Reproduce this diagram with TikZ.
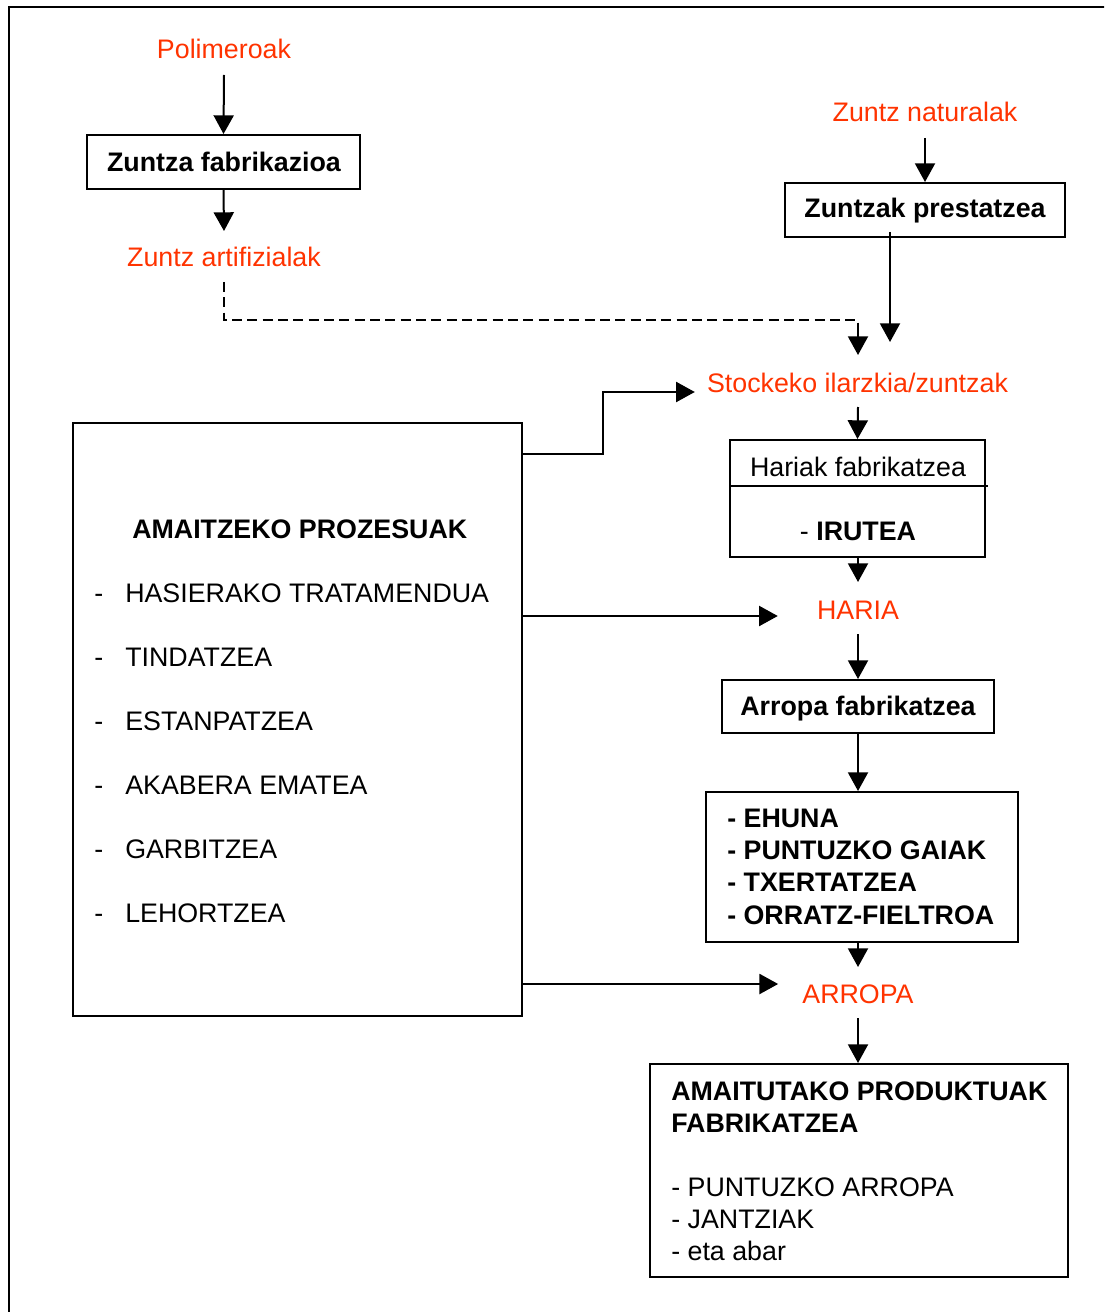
\documentclass[tikz,border=0pt]{standalone}
\usepackage{fontspec}
\setmainfont{Liberation Sans}
\usetikzlibrary{arrows.meta,calc}
\definecolor{orred}{RGB}{255,51,0}
\tikzset{
  lbl/.style={font=\fontsize{20.1}{24}\selectfont, inner sep=0pt, anchor=base},
  lblw/.style={lbl, anchor=base west},
  redtxt/.style={text=orred},
  boxn/.style={draw, line width=1.5pt, inner sep=0pt},
  arr/.style={line width=1.5pt, -{Triangle[length=14pt,width=15pt]}},
  dash line/.style={line width=1.5pt, dash pattern=on 7.5pt off 4pt},
}
\begin{document}
\begin{tikzpicture}[x=0.75pt,y=-0.75pt]
\useasboundingbox (0,0) rectangle (1104,1312);
\begin{scope}
\clip (0,0) rectangle (1104,1312);
\draw[line width=1.5pt] (9,7) rectangle (1130,1340);
\end{scope}

% boxes
\node[boxn, minimum width=204.75pt, minimum height=40.5pt] (fab) at (223.5,162) {};
\node[boxn, minimum width=210pt, minimum height=40.5pt] (prest) at (925,210) {};
\node[boxn, minimum width=191.25pt, minimum height=87.75pt] (hariak) at (857.5,498.5) {};
\node[boxn, minimum width=204pt, minimum height=39.75pt] (arropaf) at (858,706.5) {};
\node[boxn, minimum width=234pt, minimum height=112.5pt] (list) at (862,867) {};
\node[boxn, minimum width=313.5pt, minimum height=159.75pt] (final) at (859,1170.5) {};
\node[boxn, minimum width=336.75pt, minimum height=444.75pt] (left) at (297.5,719.5) {};
\draw[line width=1.5pt] ($(hariak.north west)+(0,47)$) -- ($(hariak.north east)+(2,47)$);

% texts
\node[lbl, redtxt] (pol) at (224,59) {Polimeroak};
\node[lbl] (fabt) at (224,172) {\bfseries Zuntza fabrikazioa};
\node[lbl, redtxt] (art) at (224,267) {Zuntz artifizialak};
\node[lbl, redtxt] (nat) at (925,122) {Zuntz naturalak};
\node[lbl] (prestt) at (925,218) {\bfseries Zuntzak prestatzea};
\node[lbl, redtxt] (stock) at (857.5,392) {Stockeko ilarzkia/zuntzak};
\node[lbl] (hart) at (858,476) {Hariak fabrikatzea};
\node[lbl] (irut) at (858,540) {- \bfseries IRUTEA};
\node[lbl, redtxt] (haria) at (858,619) {HARIA};
\node[lbl] (arropaft) at (858,715) {\bfseries Arropa fabrikatzea};
\node[lblw] (l1) at (727,827) {\bfseries - EHUNA};
\node[lblw] (l2) at (727,859) {\bfseries - PUNTUZKO GAIAK};
\node[lblw] (l3) at (727,891) {\bfseries - TXERTATZEA};
\node[lblw] (l4) at (727,924) {\bfseries - ORRATZ-FIELTROA};
\node[lbl, redtxt] (arropa) at (858,1003) {ARROPA};
\node[lblw] (f1) at (671,1100) {\bfseries AMAITUTAKO PRODUKTUAK};
\node[lblw] (f2) at (671,1132) {\bfseries FABRIKATZEA};
\node[lblw] (f3) at (671,1196) {- PUNTUZKO ARROPA};
\node[lblw] (f4) at (671,1228) {- JANTZIAK};
\node[lblw] (f5) at (671,1260) {- eta abar};
\node[lblw] (ltit) at (132,538) {\bfseries AMAITZEKO PROZESUAK};
\foreach \t [count=\i] in {HASIERAKO TRATAMENDUA,TINDATZEA,ESTANPATZEA,AKABERA EMATEA,GARBITZEA,LEHORTZEA}{
  \node[lblw] (d\i) at (94,538+64*\i) {-};
  \node[lblw] (it\i) at (125,538+64*\i) {\t};
}

% connectors
\draw[arr] ($(pol.base)+(0,16)$) -- (fab.north);
\draw[arr] (fab.south) -- ($(art.base)+(0,-36)$);
\coordinate (dk) at (858,320);
\draw[dash line] ($(art.base)+(0,15)$) |- (dk) -- ++(0,10);
\draw[arr] (dk) ++(0,10) -- ($(stock.base)+(0.5,-37)$);
\draw[arr] ($(nat.base)+(0,16)$) -- (prest.north);
\draw[arr] ($(prest.south)+(-35,-6)$) -- ($(stock.base)+(32.5,-50)$);
\draw[arr] ($(stock.base)+(0.5,15)$) -- (stock.base |- hariak.north);
\draw[arr] (haria.base |- hariak.south) -- ($(haria.base)+(0,-37)$);
\draw[arr] ($(haria.base)+(0,15)$) -- (arropaf.north);
\draw[arr] (arropaf.south) -- (arropaf.south |- list.north);
\draw[arr] (arropa.base |- list.south) -- ($(arropa.base)+(0,-36)$);
\draw[arr] ($(arropa.base)+(0,15)$) -- (arropa.base |- final.north);
\draw[arr] ($(left.north east)+(0,32)$) -- ++(80,0) |- ($(stock.base west)+(-12,0)$);
\coordinate (ha) at ($(haria.base west)+(-39,-3)$);
\draw[arr] (left.east |- ha) -- (ha);
\coordinate (ar) at ($(arropa.base west)+(-24,-19)$);
\draw[arr] (left.east |- ar) -- (ar);
\end{tikzpicture}
\end{document}
